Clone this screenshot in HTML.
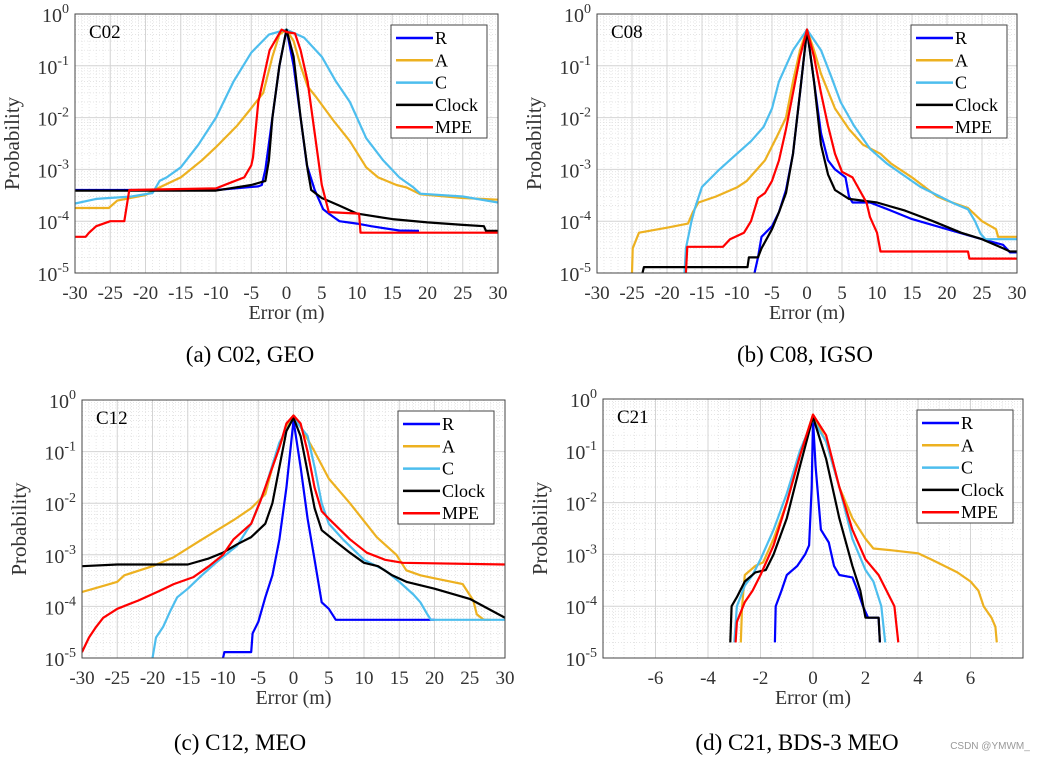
<!DOCTYPE html>
<html><head><meta charset="utf-8">
<style>
html,body{margin:0;padding:0;background:#fff;}
svg{display:block;font-family:"Liberation Serif",serif;}
</style></head>
<body>
<svg id="fig" width="1046" height="761" viewBox="0 0 1046 761" xmlns="http://www.w3.org/2000/svg">
<rect x="0" y="0" width="1046" height="761" fill="#fff"/>
<text x="990" y="749" font-family="Liberation Sans, sans-serif" font-size="10" fill="#999" text-anchor="middle">CSDN @YMWM_</text>
</svg>
<script>
// ---------- Panel (a) C02 GEO ----------
const aRx=[-30,-10,-4,-3.5,-3,-2,-1,0,1,2,2.9,4,5.2,6,7.5,10,12,16,18.8];
const aRy=[4e-4,4e-4,4.7e-4,5e-4,1e-3,1e-2,0.1,0.5,0.1,1e-2,1.2e-3,4e-4,1.7e-4,1.4e-4,1e-4,9e-5,8e-5,6.6e-5,6.5e-5];
const aAx=[-30,-25.2,-24,-20,-18,-15,-12,-10,-7,-5.2,-3.3,-2,-1,0,1,2,3,4.2,6.6,9,11.3,13,15.6,17,19,25,30];
const aAy=[1.8e-4,1.8e-4,2.5e-4,3.2e-4,4.5e-4,7e-4,1.5e-3,2.7e-3,7e-3,1.4e-2,3e-2,0.15,0.4,0.5,0.3,0.1,4e-2,2.5e-2,9e-3,3.5e-3,1.1e-3,7e-4,5e-4,4.5e-4,3.3e-4,2.8e-4,2.6e-4];
const aCx=[-30,-27,-22,-19,-18,-17,-15,-12.5,-10,-7.5,-5,-2.5,0,2.5,5,7,9,11.3,13.7,16,18,19,25,30];
const aCy=[2.2e-4,2.7e-4,3e-4,3.5e-4,6e-4,7e-4,1.1e-3,3e-3,1e-2,5e-2,0.18,0.4,0.5,0.35,0.15,5e-2,2e-2,4e-3,1.5e-3,7e-4,4.5e-4,3.4e-4,3e-4,2.3e-4];
const aKx=[-30,-10,-5,-3,-2.5,-2,-1,0,1,2,3,3.5,5,7.5,10,15,20,25,28,28.3,30];
const aKy=[3.9e-4,3.9e-4,5e-4,6e-4,1.5e-3,1e-2,0.1,0.5,0.15,1e-2,1e-3,4e-4,2.8e-4,2e-4,1.4e-4,1.1e-4,9.5e-5,8.5e-5,8e-5,6.5e-5,6.5e-5];
const aMx=[-30,-28.5,-28,-27,-25,-23,-22.3,-10,-8,-6,-5,-4.75,-4,-2.4,-0.7,0,1.2,2,3,4,5,6,10.3,10.5,30];
const aMy=[5e-5,5e-5,6e-5,8e-5,1e-4,1e-4,4e-4,4.3e-4,5.5e-4,7e-4,1.2e-3,1.7e-3,2e-2,0.2,0.5,0.45,0.42,0.2,5e-2,5e-3,5e-4,1.5e-4,1.4e-4,6e-5,6e-5];
// ---------- Panel (b) C08 IGSO ----------
const bRx=[-7.5,-7,-6.5,-5,-4,-3,-2,-1,0,1,2,3,4,5.5,6,6.5,9,12,15,20,25,28,29,30];
const bRy=[1e-5,2e-5,5e-5,8e-5,1.5e-4,4e-4,2e-3,3e-2,0.5,0.05,5e-3,1.5e-3,1e-3,7e-4,3e-4,2.3e-4,2.3e-4,1.6e-4,1.1e-4,7e-5,4.5e-5,3.5e-5,2.5e-5,2.5e-5];
const bAx=[-25,-24.9,-24,-20,-17,-16.3,-15.5,-13,-10,-8.6,-6,-4.3,-3,-2,-1,0,1,2,4,6,8,10.5,12,15,18.6,20,23,25,27,27.3,30];
const bAy=[1e-5,3e-5,6e-5,7.5e-5,9e-5,1.5e-4,2.3e-4,3e-4,4.5e-4,6e-4,1.5e-3,4.3e-3,1e-2,5e-2,0.2,0.5,0.2,0.07,1.5e-2,6e-3,3e-3,2e-3,1.3e-3,7e-4,3e-4,2.5e-4,1.8e-4,1e-4,7e-5,5e-5,5e-5];
const bCx=[-17.5,-17.3,-16.5,-16,-15,-12.5,-10.5,-8,-6.2,-5,-4,-2,0,2,3.5,4.8,6.7,9,11.4,16.2,19,21,23,24,24.8,25.5,30];
const bCy=[1e-5,3e-5,1e-4,1.8e-4,4.6e-4,1e-3,1.75e-3,3.5e-3,6.6e-3,1.5e-2,5e-2,0.2,0.5,0.2,6e-2,2e-2,7e-3,2.5e-3,1.3e-3,4.6e-4,3e-4,2.2e-4,1.7e-4,1e-4,5.7e-5,4.5e-5,4.5e-5];
const bKx=[-23.5,-23.3,-8.5,-8.3,-7,-6.5,-5,-4,-3,-2,-1,0,1,2,3,4,6,10,14,18,22,25,28,29,30];
const bKy=[1e-5,1.3e-5,1.3e-5,2e-5,2e-5,3e-5,7e-5,1.5e-4,3.5e-4,2e-3,3e-2,0.5,0.05,3e-3,8e-4,4e-4,2.7e-4,2.3e-4,1.6e-4,1e-4,6e-5,4.5e-5,3e-5,2.6e-5,2.6e-5];
const bMx=[-17.3,-17.1,-12,-11,-9,-8,-7,-6,-5,-4,-3,-2,-1,0,1,2,3,4,5,6.5,7.5,8.5,9,10,10.5,23,23.2,30];
const bMy=[1e-5,3.2e-5,3.2e-5,4.5e-5,6e-5,1e-4,2.8e-4,3.5e-4,6e-4,1.5e-3,6e-3,3e-2,0.15,0.5,0.15,3e-2,7e-3,2e-3,9e-4,7e-4,4e-4,2.3e-4,1.2e-4,6e-5,2.6e-5,2.6e-5,1.9e-5,1.9e-5];
// ---------- Panel (c) C12 MEO ----------
const cRx=[-10,-9.8,-6,-5.8,-5,-4,-3,-2,-1,0,1,2,3,4,5,6,20];
const cRy=[1e-5,1.3e-5,1.3e-5,3e-5,5e-5,1.5e-4,4e-4,2e-3,2e-2,0.4,0.05,5e-3,8e-4,1.2e-4,9e-5,5.5e-5,5.5e-5];
const cAx=[-30,-27,-25,-24,-20,-17,-13.2,-8.5,-6,-4,-3,-1,0,1,3,5,8,11.8,14.6,16,18,20,24,25.5,26,27,28];
const cAy=[1.9e-4,2.5e-4,3e-4,4e-4,6e-4,9e-4,1.9e-3,4.7e-3,8e-3,1.5e-2,0.05,0.3,0.5,0.3,0.1,0.03,0.01,2.2e-3,1e-3,5e-4,4e-4,3.5e-4,2.7e-4,1.3e-4,7e-5,5.5e-5,5.5e-5];
const cCx=[-20,-19.5,-18.5,-17.5,-16.5,-15,-13,-11,-8,-6,-4,-2,0,2,3,4,5,7,10,13,15,17,18,19,19.5,30];
const cCy=[1e-5,2.5e-5,4e-5,8e-5,1.5e-4,2.2e-4,4e-4,7e-4,1.5e-3,4e-3,2e-2,0.15,0.45,0.2,0.05,0.01,4e-3,2e-3,8e-4,5e-4,3e-4,1.7e-4,1.2e-4,7e-5,5.5e-5,5.5e-5];
const cKx=[-30,-25,-15,-12,-10,-8,-6,-4,-3,-2,-1,0,1,2,3,4,6,8,10,12,14,16,20,25,30];
const cKy=[6e-4,6.5e-4,6.5e-4,8.5e-4,1.1e-3,1.6e-3,2.2e-3,4e-3,1e-2,0.05,0.25,0.45,0.2,0.04,8e-3,3e-3,1.8e-3,1.1e-3,7e-4,6e-4,4e-4,3e-4,2.2e-4,1.4e-4,6e-5];
const cMx=[-30,-29,-28,-27,-25,-22,-19,-17,-14.2,-12,-10,-8.5,-6,-4.7,-2,-1,0,1,2,3,4,5.2,8,10.4,13,15.5,30];
const cMy=[1.3e-5,2.5e-5,4e-5,6e-5,9e-5,1.3e-4,2e-4,2.7e-4,3.7e-4,6e-4,1e-3,2e-3,4e-3,1.1e-2,0.12,0.35,0.5,0.35,0.1,0.02,7e-3,4.7e-3,2e-3,1.1e-3,8e-4,7e-4,6.5e-4];
// ---------- Panel (d) C21 BDS-3 MEO ----------
const dRx=[-1.45,-1.42,-1.2,-1,-0.6,-0.3,-0.15,-0.05,0,0.1,0.3,0.6,0.8,1,1.5,1.7,1.9,2.1,2.5,2.55];
const dRy=[2e-5,1e-4,2e-4,4e-4,6e-4,1e-3,1.5e-3,0.02,0.4,0.05,3e-3,1.7e-3,6e-4,4e-4,3.6e-4,2e-4,1e-4,6e-5,6e-5,2e-5];
const dAx=[-2.75,-2.7,-2.6,-2.2,-1.9,-1.5,-1,-0.5,0,0.5,1,1.5,2,2.3,3,4,4.5,5,5.5,6,6.3,6.5,6.8,6.95,7];
const dAy=[2e-5,1e-4,4e-4,6e-4,7e-4,2e-3,0.01,0.08,0.5,0.15,0.02,5e-3,2e-3,1.3e-3,1.2e-3,1.05e-3,8e-4,6e-4,4.5e-4,3e-4,2e-4,1e-4,6e-5,4e-5,2e-5];
const dCx=[-3,-2.9,-2.6,-2.3,-2,-1.5,-1,-0.5,0,0.5,1,1.5,2,2.3,2.6,2.75];
const dCy=[2e-5,1e-4,2.5e-4,4e-4,8e-4,3e-3,0.015,0.1,0.4,0.15,0.02,2e-3,5e-4,3e-4,1e-4,2e-5];
const dKx=[-3.15,-3.1,-2.9,-2.6,-2.2,-1.8,-1.5,-1,-0.5,0,0.5,1,1.5,1.8,2,2.5,2.55];
const dKy=[2e-5,1e-4,1.5e-4,3e-4,4.5e-4,5e-4,1e-3,5e-3,0.05,0.45,0.07,5e-3,6e-4,2e-4,6e-5,6e-5,2e-5];
const dMx=[-2.95,-2.9,-2.6,-2.3,-2,-1.5,-1,-0.5,0,0.5,1,1.5,2,2.5,2.8,3.1,3.25];
const dMy=[2e-5,5e-5,1.2e-4,2e-4,4e-4,1.5e-3,0.01,0.08,0.5,0.2,0.02,3e-3,8e-4,4e-4,2e-4,1e-4,2e-5];

const xTicksWide=[-30,-25,-20,-15,-10,-5,0,5,10,15,20,25,30];
const xTicksNarrow=[-6,-4,-2,0,2,4,6];
const yTickExp=[0,-1,-2,-3,-4,-5];
const seriesNames=["R","A","C","Clock","MPE"];
const seriesColors=["#0000ff","#edb120","#4dbeee","#000000","#ff0000"];

const NS="http://www.w3.org/2000/svg";
const svg=document.getElementById('fig');
function mk(tag,attrs,parent){const e=document.createElementNS(NS,tag);for(const k in attrs)e.setAttribute(k,attrs[k]);(parent||svg).appendChild(e);return e;}

function panel(p){
  const g=mk('g',{});
  
  
  const L=p.L,R=p.R,T=p.T,B=p.B;
  const sx=v=>L+(v-p.xmin)/(p.xmax-p.xmin)*(R-L);
  const sy=v=>T+(-Math.log10(v))/5*(B-T);
  for(let d=0;d<5;d++){for(let m=2;m<=9;m++){const y=sy(Math.pow(10,-d-1)*m);
    const ln=mk('line',{x1:L,x2:R,y1:y,y2:y,stroke:'#dcdcdc','stroke-width':0.7,'stroke-dasharray':'1,2'},g);
    
    }}
  for(let v=p.xmin;v<=p.xmax+1e-9;v+=p.minorStep){const x=sx(v);
    const ln=mk('line',{x1:x,x2:x,y1:T,y2:B,stroke:'#dcdcdc','stroke-width':0.7,'stroke-dasharray':'1,2'},g);
    
    }
  yTickExp.forEach(e=>{const y=sy(Math.pow(10,e));
    const ln=mk('line',{x1:L,x2:R,y1:y,y2:y,stroke:'#d4d4d4','stroke-width':1},g);
    
    
    const t=mk('text',{x:L-6,y:y+8,'font-size':20,'text-anchor':'end',fill:'#333'},g);
    
    
    t.appendChild(document.createTextNode('10'));
    const s=mk('tspan',{dy:-9,'font-size':14},t);s.textContent=String(e);
  });
  p.ticks.forEach(v=>{const x=sx(v);
    const ln=mk('line',{x1:x,x2:x,y1:T,y2:B,stroke:'#d4d4d4','stroke-width':1},g);
    
    
    const t=mk('text',{x:x,y:B+26,'font-size':19,'text-anchor':'middle',fill:'#333'},g);
    
    
    t.textContent=String(v);
  });
  const cp=mk('clipPath',{id:'clip-'+p.id},g);
  mk('rect',{x:L,y:T,width:R-L,height:B-T},cp);
  p.series.forEach((s,i)=>{
    const pts=s[0].map((xv,j)=>sx(xv).toFixed(1)+','+sy(s[1][j]).toFixed(1)).join(' ');
    const pl=mk('polyline',{points:pts,fill:'none',stroke:seriesColors[i],'stroke-width':2.2,'stroke-linejoin':'round','clip-path':'url(#clip-'+p.id+')'},g);
    
    
  });
  const fr=mk('rect',{x:L,y:T,width:R-L,height:B-T,fill:'none',stroke:'#444','stroke-width':1},g);
  
  
  const sl=mk('text',{x:L+14,y:T+24,'font-size':19,fill:'#000'},g);
  
  
  sl.textContent=p.sat;
  const lg=mk('g',{},g);
  
  
  mk('rect',{x:p.legX,y:T+11,width:96,height:113,fill:'#fff',stroke:'#444','stroke-width':1},lg);
  seriesNames.forEach((n,i)=>{const y=T+24+i*22.3;
    const le=mk('g',{},lg);
    
    
    mk('line',{x1:p.legX+5,x2:p.legX+42,y1:y,y2:y,stroke:seriesColors[i],'stroke-width':2.5},le);
    const t=mk('text',{x:p.legX+44,y:y+6,'font-size':18,fill:'#000'},le);t.textContent=n;
  });
  const xt=mk('text',{x:(L+R)/2,y:B+46,'font-size':20,'text-anchor':'middle',fill:'#333'},g);
  
  
  xt.textContent='Error (m)';
  const yt=mk('text',{x:0,y:0,'font-size':21,'text-anchor':'middle',fill:'#333',transform:'translate('+(L-56)+','+((T+B)/2)+') rotate(-90)'},g);
  
  
  yt.textContent='Probability';
  const cap=mk('text',{x:p.capX,y:p.capY,'font-size':23,'text-anchor':'middle',fill:'#000'},g);
  
  
  cap.textContent=p.caption;
}

panel({id:'a',L:75,R:498,T:14,B:273,xmin:-30,xmax:30,minorStep:1,ticks:xTicksWide,sat:'C02',legX:391,capX:250,capY:362,caption:'(a) C02, GEO',
  series:[[aRx,aRy],[aAx,aAy],[aCx,aCy],[aKx,aKy],[aMx,aMy]]});
panel({id:'b',L:597,R:1017,T:14,B:273,xmin:-30,xmax:30,minorStep:1,ticks:xTicksWide,sat:'C08',legX:911,capX:805,capY:362,caption:'(b) C08, IGSO',
  series:[[bRx,bRy],[bAx,bAy],[bCx,bCy],[bKx,bKy],[bMx,bMy]]});
panel({id:'c',L:82,R:505,T:400,B:658,xmin:-30,xmax:30,minorStep:1,ticks:xTicksWide,sat:'C12',legX:398,capX:240,capY:750,caption:'(c) C12, MEO',
  series:[[cRx,cRy],[cAx,cAy],[cCx,cCy],[cKx,cKy],[cMx,cMy]]});
panel({id:'d',L:603,R:1023,T:399,B:658,xmin:-8,xmax:8,minorStep:0.4,ticks:xTicksNarrow,sat:'C21',legX:917,capX:797,capY:750,caption:'(d) C21, BDS-3 MEO',
  series:[[dRx,dRy],[dAx,dAy],[dCx,dCy],[dKx,dKy],[dMx,dMy]]});
</script>
</body></html>
